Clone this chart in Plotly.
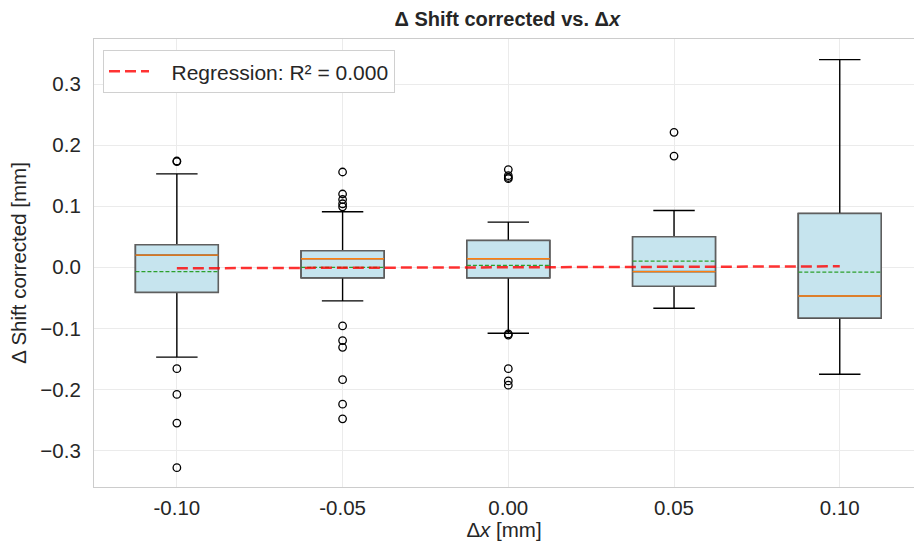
import plotly.graph_objects as go

# ---- data ----
dx_positions = [-0.10, -0.05, 0.00, 0.05, 0.10]
tick_labels = ["-0.10", "-0.05", "0.00", "0.05", "0.10"]

q1_vals = [-0.041, -0.017, -0.017, -0.031, -0.083]
median_vals = [0.020, 0.014, 0.014, -0.007, -0.047]
q3_vals = [0.037, 0.027, 0.044, 0.050, 0.088]
lower_whisker = [-0.147, -0.055, -0.108, -0.067, -0.175]
upper_whisker = [0.153, 0.091, 0.074, 0.093, 0.340]
mean_vals = [-0.007, 0.000, 0.003, 0.010, -0.008]

outliers = {
    -0.10: [0.174, 0.173, -0.166, -0.208, -0.255, -0.328],
    -0.05: [0.156, 0.120, 0.111, 0.104, 0.099, -0.096, -0.120, -0.131, -0.184, -0.224, -0.248],
    0.00: [0.160, 0.150, 0.147, 0.145, -0.109, -0.111, -0.166, -0.186, -0.193],
    0.05: [0.221, 0.182],
    0.10: [],
}

reg_x = [-0.10, 0.10]
reg_y = [-0.0016, 0.0016]
reg_label = "Regression: R² = 0.000"

# ---- style ----
BOX_W = 0.025
HALF_W = BOX_W / 2
FONT = "Liberation Sans, Arial, sans-serif"
FILL = "#c6e4ee"
FS = 20.5
PAD = "\u00a0\u00a0\u00a0"

fig = go.Figure()

# whiskers + caps (black)
fig.add_trace(go.Box(
    x=dx_positions, q1=q1_vals, median=median_vals, q3=q3_vals,
    lowerfence=lower_whisker, upperfence=upper_whisker,
    width=BOX_W, whiskerwidth=0.5, fillcolor=FILL,
    line=dict(color="black", width=1.4), boxpoints=False,
    showlegend=False, hoverinfo="skip",
))
# box body (gray edge)
fig.add_trace(go.Box(
    x=dx_positions, q1=q1_vals, median=median_vals, q3=q3_vals,
    lowerfence=q1_vals, upperfence=q3_vals,
    width=BOX_W, whiskerwidth=0, fillcolor=FILL,
    line=dict(color="#5f5f5f", width=1.6), boxpoints=False,
    showlegend=False, hoverinfo="skip",
))

# median lines (orange)
mx, my = [], []
for x, m in zip(dx_positions, median_vals):
    mx += [x - HALF_W, x + HALF_W, None]
    my += [m, m, None]
fig.add_trace(go.Scatter(x=mx, y=my, mode="lines",
                         line=dict(color="#ff7f0e", width=1.4),
                         showlegend=False, hoverinfo="skip"))

# mean lines (green dashed)
ax_, ay_ = [], []
for x, m in zip(dx_positions, mean_vals):
    ax_ += [x - HALF_W, x + HALF_W, None]
    ay_ += [m, m, None]
fig.add_trace(go.Scatter(x=ax_, y=ay_, mode="lines",
                         line=dict(color="#2ca02c", width=1.2, dash="4px,2px"),
                         showlegend=False, hoverinfo="skip"))

# outliers
ox, oy = [], []
for x, vals in outliers.items():
    ox += [x] * len(vals)
    oy += vals
fig.add_trace(go.Scatter(x=ox, y=oy, mode="markers",
                         marker=dict(symbol="circle-open", size=7.5,
                                     color="black", line=dict(width=1.3)),
                         showlegend=False, hoverinfo="skip"))

# regression line
fig.add_trace(go.Scatter(x=reg_x, y=reg_y, mode="lines", name=PAD + reg_label,
                         line=dict(color="rgba(255,0,0,0.8)", width=2.5, dash="11px,5px")))

fig.update_layout(
    width=914, height=541,
    margin=dict(l=94, r=0, t=39, b=54),
    paper_bgcolor="white", plot_bgcolor="white",
    font=dict(family=FONT, size=FS, color="#262626"),
    title=dict(text="<b>Δ Shift corrected vs. Δ<i>x</i></b>", x=0.555, xanchor="center",
               y=1 - 19 / 541, yanchor="middle", yref="container",
               font=dict(size=20, color="#262626")),
    boxmode="overlay",
    showlegend=True,
    legend=dict(x=0.011, y=0.975, xanchor="left", yanchor="top",
                bgcolor="white", bordercolor="#d0d0d0", borderwidth=1,
                itemwidth=40, tracegroupgap=0,
                font=dict(size=FS + 0.5, color="#262626")),
    xaxis=dict(range=[-0.125, 0.1224], tickvals=dx_positions, ticktext=tick_labels,
               showgrid=True, gridcolor="#ebebeb", gridwidth=1, zeroline=False,
               showline=True, linecolor="#cccccc", linewidth=1.2, mirror=True,
               ticks="outside", ticklen=2, tickcolor="rgba(0,0,0,0)",
               title=dict(text="Δ<i>x</i> [mm]", standoff=0, font=dict(size=FS))),
    yaxis=dict(range=[-0.3596, 0.3737], tickvals=[-0.3, -0.2, -0.1, 0.0, 0.1, 0.2, 0.3],
               tickformat=".1f",
               showgrid=True, gridcolor="#ebebeb", gridwidth=1, zeroline=False,
               showline=True, linecolor="#cccccc", linewidth=1.2, mirror=False,
               ticks="outside", ticklen=8, tickcolor="rgba(0,0,0,0)",
               title=dict(text="Δ Shift corrected [mm]", standoff=8, font=dict(size=FS))),
)

fig.write_html("out.html")
